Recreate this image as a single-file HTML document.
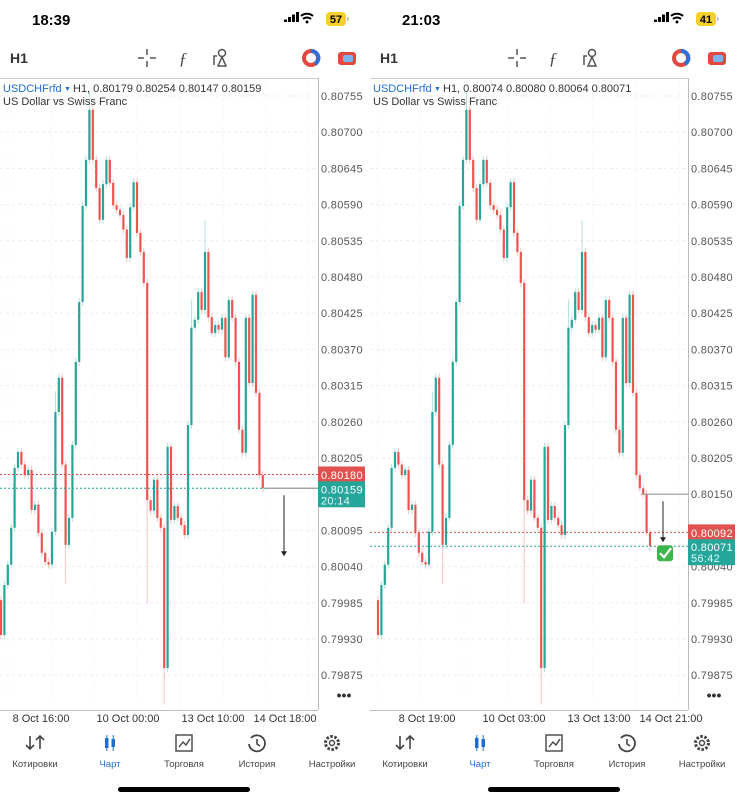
<!DOCTYPE html>
<html><head><meta charset="utf-8"><style>
html,body{margin:0;padding:0;background:#fff;}
body{width:739px;height:800px;overflow:hidden;position:relative;font-family:"Liberation Sans",sans-serif;}
svg{position:absolute;left:0;top:0;}
</style></head><body>
<svg id="s" width="739" height="800" viewBox="0 0 739 800" xmlns="http://www.w3.org/2000/svg" font-family="Liberation Sans, DejaVu Sans, sans-serif"></svg>
<script>
// ---- data ----
const opens0 = 0.79989;
const closes = [0.79936,0.80012,0.80043,0.80099,0.80190,0.80214,0.80195,0.80179,0.80187,0.80126,
0.80134,0.80091,0.80061,0.80047,0.80043,0.80093,0.80275,0.80327,0.80195,0.80073,
0.80114,0.80225,0.80351,0.80442,0.80588,0.80658,0.80734,0.80658,0.80615,0.80567,
0.80621,0.80658,0.80623,0.80589,0.80582,0.80574,0.80552,0.80509,0.80586,0.80624,
0.80547,0.80518,0.80471,0.80141,0.80125,0.80172,0.80114,0.80099,0.79886,0.80222,
0.80111,0.80132,0.80114,0.80103,0.80088,0.80255,0.80403,0.80415,0.80457,0.80430,
0.80518,0.80419,0.80395,0.80407,0.80400,0.80418,0.80358,0.80445,0.80418,0.80351,
0.80248,0.80213,0.80418,0.80319,0.80453,0.80304,0.80179,0.80159];
const extraCloses = [0.80150,0.80092,0.80071];
const specialHighs = {26:0.80755,56:0.80440,60:0.80560,16:0.80300};
const specialLows = {48:0.79837,43:0.79990,49:0.80000,19:0.80020};
const leftTicks = [0.80755,0.80700,0.80645,0.80590,0.80535,0.80480,0.80425,0.80370,0.80315,0.80260,0.80205,0.80095,0.80040,0.79985,0.79930,0.79875];
const rightTicks = [0.80755,0.80700,0.80645,0.80590,0.80535,0.80480,0.80425,0.80370,0.80315,0.80260,0.80205,0.80150,0.80040,0.79985,0.79930,0.79875];
const leftDates = ["8 Oct 16:00","10 Oct 00:00","13 Oct 10:00","14 Oct 18:00"];
const rightDates = ["8 Oct 19:00","10 Oct 03:00","13 Oct 13:00","14 Oct 21:00"];
const tabs = ["Котировки","Чарт","Торговля","История","Настройки"];

const NS="http://www.w3.org/2000/svg";
const S=document.getElementById('s');
function el(tag,attrs,parent,text){const e=document.createElementNS(NS,tag);for(const k in attrs)e.setAttribute(k,attrs[k]);if(text!==undefined)e.textContent=text;(parent||S).appendChild(e);return e;}
function yOf(p){return 96+(0.80755-p)/0.00055*36.2;}

function panel(ox,opts){
  const g=el('g',{});
  
  
  const t=el('text',{x:ox+32,y:25,'font-size':15,'font-weight':'bold',fill:'#000'},g,opts.time);
  
  [0,1,2,3].forEach(i=>el('rect',{x:ox+284+i*4,y:22-(i+1)*2.5,width:3,height:(i+1)*2.5,fill:'#000',rx:0.5},g));
  el('path',{d:`M${ox+301} 16 a9 9 0 0 1 12 0 M${ox+303} 19 a6 6 0 0 1 8 0`,stroke:'#000','stroke-width':2,fill:'none'},g);
  el('circle',{cx:ox+307,cy:22,r:1.5,fill:'#000'},g);
  const bat=el('rect',{x:ox+326,y:12,width:20,height:14,rx:4,fill:'#f5d02a'},g);
  
  el('text',{x:ox+336,y:23,'font-size':11,'font-weight':'bold','text-anchor':'middle',fill:'#000'},g,opts.bat);
  el('rect',{x:ox+347,y:17,width:1.5,height:4,fill:'#bbb'},g);
  const h1=el('text',{x:ox+10,y:63,'font-size':14,'font-weight':'bold',fill:'#333'},g,'H1');
  
  const cr=el('path',{d:`M${ox+138} 58h6M${ox+150} 58h6M${ox+147} 49v6M${ox+147} 61v6`,stroke:'#555','stroke-width':1.5},g);
  
  const fi=el('text',{x:ox+183,y:64,'font-size':17,'font-style':'italic','text-anchor':'middle',fill:'#444','font-family':'Liberation Serif, serif'},g,'ƒ');
  
  const ob=el('path',{d:`M${ox+214} 65v-9h3 M${ox+218} 66l4-9 4 9z`,stroke:'#555','stroke-width':1.5,fill:'none'},g);
  el('circle',{cx:ox+222,cy:53,r:3.5,stroke:'#555','stroke-width':1.5,fill:'none'},g);
  
  const ci=el('circle',{cx:ox+311,cy:58,r:7,fill:'none',stroke:'#e0493f','stroke-width':4},g);
  el('path',{d:`M${ox+311} 51 a7 7 0 0 1 4 13`,fill:'none',stroke:'#2f6fd6','stroke-width':4},g);
  
  const tb=el('rect',{x:ox+338,y:52,width:18,height:13,rx:3,fill:'#e0493f'},g);
  el('rect',{x:ox+343,y:55,width:10,height:7,rx:2,fill:'#7ab3f0'},g);
  
  el('line',{x1:ox,y1:78.5,x2:ox+318,y2:78.5,stroke:'#ccc'},g);
  leftTicks.forEach(p=>el('line',{x1:ox,x2:ox+318,y1:yOf(p),y2:yOf(p),stroke:'#eee','stroke-dasharray':'3 3'},g));
  for(let k=0;k<8;k++)el('line',{x1:ox+8+k*43,x2:ox+8+k*43,y1:80,y2:710,stroke:'#f5f5f5','stroke-dasharray':'3 3'},g);
  el('line',{x1:ox+318.5,y1:78,x2:ox+318.5,y2:710,stroke:'#bbb'},g);
  el('line',{x1:ox,y1:710.5,x2:ox+318,y2:710.5,stroke:'#bbb'},g);
  const data=opts.closes;
  const step=3.4;
  let prev=opens0;
  const cg=el('g',{},g);
  
  data.forEach((c,i)=>{
    const o=prev;prev=c;
    const x=ox+opts.x0+i*step;
    const up=c>=o;const col=up?'#26a69a':'#ef5350';
    const hi=specialHighs[i]!==undefined?Math.max(specialHighs[i],o,c):Math.max(o,c);
    const lo=specialLows[i]!==undefined?Math.min(specialLows[i],o,c):Math.min(o,c);
    const w=el('line',{x1:x,x2:x,y1:yOf(hi)-4,y2:yOf(lo)+4,stroke:col,'stroke-opacity':0.35,'stroke-width':1},cg);
    
    const yt=yOf(Math.max(o,c)),yb=yOf(Math.min(o,c));
    const b=el('rect',{x:x-1.1,y:yt,width:2.2,height:Math.max(1.2,yb-yt),fill:col},cg);
    
  });
  const sym=el('text',{x:ox+3,y:92,'font-size':11,fill:'#1f6fd0'},g,'USDCHFrfd');
  
  el('text',{x:ox+64,y:91,'font-size':7,fill:'#1f6fd0'},g,'▼');
  el('text',{x:ox+73,y:92,'font-size':11,fill:'#333'},g,opts.ohlc);
  el('text',{x:ox+3,y:105,'font-size':11,fill:'#333'},g,'US Dollar vs Swiss Franc');
  opts.ticks.forEach(p=>{const tt=el('text',{x:ox+321,y:yOf(p)+4,'font-size':11,fill:'#555','letter-spacing':'0.3'},g,p.toFixed(5));
    });
  const yp=yOf(opts.prevLine),yc=yOf(opts.curLine);
  el('line',{x1:ox,x2:ox+318,y1:yp,y2:yp,stroke:'#e05050','stroke-dasharray':'2 2'},g);
  el('line',{x1:ox,x2:ox+318,y1:yc,y2:yc,stroke:'#26a69a','stroke-dasharray':'2 2'},g);
  const yg=yOf(opts.greyLine);
  el('line',{x1:ox+opts.greyX,x2:ox+318,y1:yg,y2:yg,stroke:'#999','stroke-width':1.2},g);
  const ar=el('line',{x1:ox+opts.arrowX,x2:ox+opts.arrowX,y1:yg+7,y2:yg+opts.arrowLen,stroke:'#222','stroke-width':1},g);
  
  el('path',{d:`M${ox+opts.arrowX-3} ${yg+opts.arrowLen-3}l3 5 3-5z`,fill:'#222'},g);
  const rb=el('rect',{x:ox+318,y:yp-8,width:47,height:16,fill:'#e0514f'},g);
  
  el('text',{x:ox+321,y:yp+4.5,'font-size':11,fill:'#fff','letter-spacing':'0.3'},g,opts.prevLine.toFixed(5));
  const gb=el('rect',{x:ox+318,y:yc-7,width:47,height:26,fill:'#26a69a'},g);
  
  el('text',{x:ox+321,y:yc+5,'font-size':11,fill:'#fff','letter-spacing':'0.3'},g,opts.curLine.toFixed(5));
  el('text',{x:ox+321,y:yc+16,'font-size':11,fill:'#dff','letter-spacing':'0.3'},g,opts.timer);
  if(opts.check){const ck=el('rect',{x:ox+287,y:yc-1,width:16,height:16,rx:3,fill:'#3cb54a'},g);
    
    el('path',{d:`M${ox+290} ${yc+7}l4 4 7-9`,stroke:'#fff','stroke-width':2.2,fill:'none'},g);}
  const mo=el('text',{x:ox+344,y:700,'font-size':14,'font-weight':'bold','text-anchor':'middle',fill:'#333'},g,'•••');
  
  opts.dates.forEach((d,i)=>{const dt=el('text',{x:ox+opts.dateX[i],y:722,'font-size':11,'text-anchor':'middle',fill:'#333'},g,d);
    });
  const tx=[35,110,184,257,332];
  tabs.forEach((n,i)=>{const col=i===1?'#1f6fd0':'#444';
    const tt=el('text',{x:ox+tx[i],y:767,'font-size':9.5,'text-anchor':'middle',fill:col},g,n);
    
    const cx=ox+tx[i],cy=743;
    if(i===0)el('path',{d:`M${cx-5} ${cy-7}v13m-4-4l4 4 4-4M${cx+5} ${cy+6}v-13m-4 4l4-4 4 4`,stroke:col,'stroke-width':1.6,fill:'none'},g);
    if(i===1){el('rect',{x:cx-5,y:cy-5,width:3.5,height:10,fill:col},g);el('rect',{x:cx+1.5,y:cy-4,width:3.5,height:8,fill:col},g);el('path',{d:`M${cx-3.2} ${cy-8}v16M${cx+3.2} ${cy-8}v16`,stroke:col},g);}
    if(i===2){el('rect',{x:cx-8,y:cy-8,width:16,height:16,fill:'none',stroke:col,'stroke-width':1.4},g);el('path',{d:`M${cx-5} ${cy+4}l4-5 3 3 4-6`,stroke:col,'stroke-width':1.4,fill:'none'},g);}
    if(i===3){el('path',{d:`M${cx-6} ${cy-5}a8 8 0 1 1 -2 6`,stroke:col,'stroke-width':1.8,fill:'none'},g);el('path',{d:`M${cx} ${cy-4}v5l3 2`,stroke:col,'stroke-width':1.6,fill:'none'},g);}
    if(i===4){el('circle',{cx:cx,cy:cy,r:6.5,fill:'none',stroke:col,'stroke-width':3,'stroke-dasharray':'2.5 1.6'},g);el('circle',{cx:cx,cy:cy,r:2.5,fill:'none',stroke:col,'stroke-width':1.4},g);}
  });
  const hb=el('rect',{x:ox+118,y:787,width:132,height:5,rx:2.5,fill:'#000'},g);
  
}
panel(0,{name:'left-screen',time:'18:39',bat:'57',closes:closes,x0:1,ohlc:'H1, 0.80179 0.80254 0.80147 0.80159',
  ticks:leftTicks,prevLine:0.80180,curLine:0.80159,greyLine:0.80159,greyX:266,arrowX:284,arrowLen:66,timer:'20:14',check:false,
  dates:leftDates,dateX:[41,128,213,285]});
panel(370,{name:'right-screen',time:'21:03',bat:'41',closes:closes.concat(extraCloses),x0:8,ohlc:'H1, 0.80074 0.80080 0.80064 0.80071',
  ticks:rightTicks,prevLine:0.80092,curLine:0.80071,greyLine:0.80150,greyX:271,arrowX:293,arrowLen:46,timer:'56:42',check:true,
  dates:rightDates,dateX:[57,144,229,301]});
</script>
</body></html>
